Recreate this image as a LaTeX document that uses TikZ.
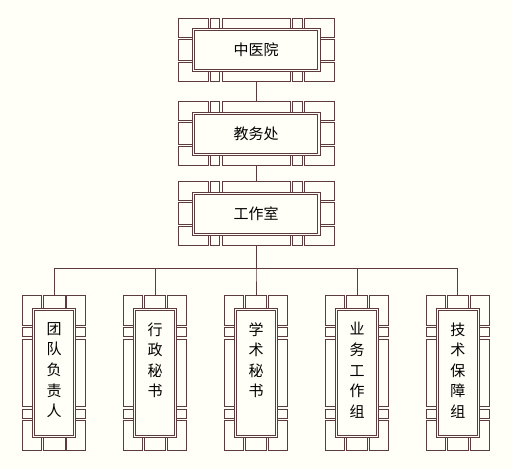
\documentclass[tikz,border=0pt]{standalone}
\usepackage{fontspec}
\newfontfamily\cjk{Noto Sans CJK SC}
\definecolor{ln}{HTML}{5B3B3B}
\definecolor{bgc}{HTML}{FFFFF7}
\tikzset{
  tile/.style={draw=ln, line width=1pt, fill=bgc},
  innerframe/.style={draw=ln, line width=1pt, fill=bgc},
  innerline/.style={draw=ln, line width=1pt},
  hbox/.style={minimum width=156pt, minimum height=63.5pt, inner sep=0pt,
    font=\cjk\fontsize{15}{18}\selectfont, text=black},
  vbox/.style={minimum width=63pt, minimum height=155.5pt, inner sep=0pt},
  vtext/.style={anchor=north, align=center, inner sep=0pt,
    font=\cjk\fontsize{15}{20.6}\selectfont, text=black},
  link/.style={draw=ln, line width=1pt},
}
\newcommand\hframe[4]{%
  \pgfmathsetmacro\fL{#2-78}\pgfmathsetmacro\fR{#2+78}%
  \pgfmathsetmacro\fT{#3-31.75}\pgfmathsetmacro\fB{#3+31.75}%
  \draw[tile] (\fL,\fT) rectangle (\fL+30,\fT+19);
  \draw[tile] (\fR-30,\fT) rectangle (\fR,\fT+19);
  \draw[tile] (\fL,\fB-19) rectangle (\fL+30,\fB);
  \draw[tile] (\fR-30,\fB-19) rectangle (\fR,\fB);
  \draw[tile] (\fL+32,\fT) rectangle (\fL+41.3,\fT+12);
  \draw[tile] (\fL+44,\fT) rectangle (\fR-44,\fT+12);
  \draw[tile] (\fR-41.3,\fT) rectangle (\fR-32,\fT+12);
  \draw[tile] (\fL+32,\fB-12) rectangle (\fL+41.3,\fB);
  \draw[tile] (\fL+44,\fB-12) rectangle (\fR-44,\fB);
  \draw[tile] (\fR-41.3,\fB-12) rectangle (\fR-32,\fB);
  \draw[tile] (\fL,\fT+21) rectangle (\fL+16,\fB-21);
  \draw[tile] (\fR-16,\fT+21) rectangle (\fR,\fB-21);
  \draw[innerframe] (\fL+14,\fT+10.2) rectangle (\fR-14,\fB-10.2);
  \draw[innerline] (\fL+16.2,\fT+12.4) rectangle (\fR-16.2,\fB-12.4);
  \node[hbox] (#1) at (#2,#3) {#4};
}
\newcommand\vframe[4]{%
  \pgfmathsetmacro\fL{#2-31.5}\pgfmathsetmacro\fR{#2+31.5}%
  \pgfmathsetmacro\fT{#3-77.75}\pgfmathsetmacro\fB{#3+77.75}%
  \draw[tile] (\fL,\fT) rectangle (\fL+19,\fT+30.7);
  \draw[tile] (\fR-19,\fT) rectangle (\fR,\fT+30.7);
  \draw[tile] (\fL,\fB-30.7) rectangle (\fL+19,\fB);
  \draw[tile] (\fR-19,\fB-30.7) rectangle (\fR,\fB);
  \draw[tile] (\fL,\fT+32.3) rectangle (\fL+12,\fT+41.7);
  \draw[tile] (\fL,\fT+44) rectangle (\fL+12,\fB-44);
  \draw[tile] (\fL,\fB-41.7) rectangle (\fL+12,\fB-32.3);
  \draw[tile] (\fR-12,\fT+32.3) rectangle (\fR,\fT+41.7);
  \draw[tile] (\fR-12,\fT+44) rectangle (\fR,\fB-44);
  \draw[tile] (\fR-12,\fB-41.7) rectangle (\fR,\fB-32.3);
  \draw[tile] (\fL+20.7,\fT) rectangle (\fR-20.7,\fT+15);
  \draw[tile] (\fL+20.7,\fB-15) rectangle (\fR-20.7,\fB);
  \draw[innerframe] (\fL+10,\fT+12.8) rectangle (\fR-10,\fB-12.8);
  \draw[innerline] (\fL+12.2,\fT+15) rectangle (\fR-12.2,\fB-15);
  \node[vbox] (#1) at (#2,#3) {};
  \node[vtext] (#1t) at (#2,\fT+27) {#4};
}
\begin{document}
\begin{tikzpicture}[x=1pt,y=-1pt]
  \fill[bgc] (0,0) rectangle (512,469);
  \useasboundingbox (0,0) rectangle (512,469);
  \hframe{n1}{256}{50}{中医院}
  \hframe{n2}{256}{133.7}{教务处}
  \hframe{n3}{256}{213.7}{工作室}
  \vframe{n4}{54.2}{373}{团\\队\\负\\责\\人}
  \vframe{n5}{155}{373}{行\\政\\秘\\书}
  \vframe{n6}{256}{373}{学\\术\\秘\\书}
  \vframe{n7}{357}{373}{业\\务\\工\\作\\组}
  \vframe{n8}{457.8}{373}{技\\术\\保\\障\\组}
  \coordinate (bus) at (256,268.3);
  \draw[link] (n1.south) -- (n2.north);
  \draw[link] (n2.south) -- (n3.north);
  \foreach \c in {n4,n5,n6,n7,n8}
    \draw[link] (n3.south) -- (n3.south |- bus) -| (\c.north);
\end{tikzpicture}
\end{document}
